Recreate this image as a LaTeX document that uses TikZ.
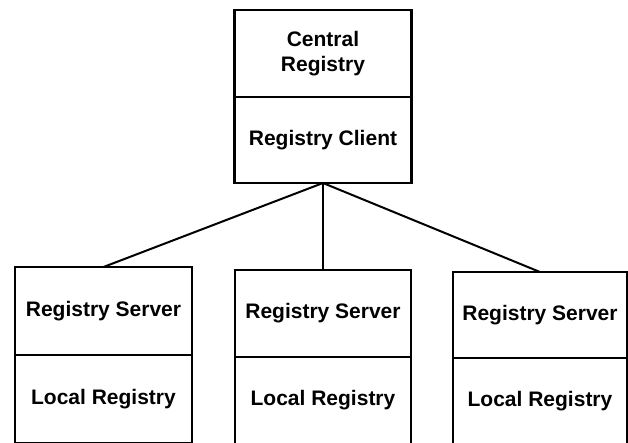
\documentclass[tikz,border=0pt]{standalone}
\usepackage{fontspec}
\setmainfont{Liberation Sans}
\begin{document}
\begin{tikzpicture}[x=1pt,y=1pt]
  \useasboundingbox (0,0) rectangle (628,-442);

  \begin{scope}[every node/.style={rectangle, draw, line width=2.8pt, outer sep=0pt, inner sep=0pt,
      align=center, font=\bfseries\fontsize{21}{25}\selectfont}]
    \node[minimum width=177pt, minimum height=87pt] (central) at (323,-53.5) {Central\\Registry};
    \node[minimum width=177pt, minimum height=86pt] (client)  at (323,-140)  {Registry Client};
    \node[minimum width=177pt, minimum height=88pt] (server1) at (103.5,-311)  {Registry Server};
    \node[minimum width=177pt, minimum height=88pt] (local1)  at (103.5,-399)  {Local Registry};
    \node[minimum width=176pt, minimum height=87pt] (server2) at (323,-313.5)  {Registry Server};
    \node[minimum width=176pt, minimum height=87pt] (local2)  at (323,-400.5)  {Local Registry};
    \node[minimum width=174pt, minimum height=86pt] (server3) at (540,-315)    {Registry Server};
    \node[minimum width=174pt, minimum height=86pt] (local3)  at (540,-401)    {Local Registry};
  \end{scope}

  \begin{scope}[every edge/.style={draw, line width=2pt}]
    \path (client.south) edge (server1.north);
    \path (client.south) edge (server2.north);
    \path (client.south) edge (server3.north);
  \end{scope}

\end{tikzpicture}
\end{document}
